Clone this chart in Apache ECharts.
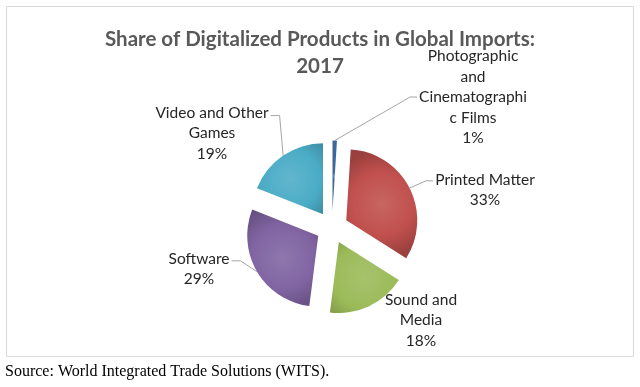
<!DOCTYPE html>
<html><head><meta charset="utf-8">
<script src="https://cdn.jsdelivr.net/npm/echarts@6/dist/echarts.min.js"></script>
<style>html,body{margin:0;padding:0;background:#fff}#c{width:640px;height:387px}</style>
</head><body><div id="c"></div>
<script>
// ---- data ----
var categories = ['Photographic and Cinematographic Films', 'Printed Matter', 'Sound and Media', 'Software', 'Video and Other Games'];
var labelTexts = ['Photographic\nand\nCinematographi\nc Films', 'Printed Matter', 'Sound and\nMedia', 'Software', 'Video and Other\nGames'];
var values = [1, 33, 18, 29, 19];
var titleText = 'Share of Digitalized Products in Global Imports:\n2017';
var sourceText = 'Source: World Integrated Trade Solutions (WITS).';

// ---- styles ----
var colors = ['#4F81BD', '#C0504D', '#9BBB59', '#8064A2', '#4BACC6'];
var labelPos = [[473, 97], [485, 190], [421, 320], [199, 269], [212, 133]];
var lineAttach = [0, -0.45, null, -0.4, -0.85]; // leader attach height, in text lines from label centre
var explode = 16, lineH = 20.5, cx = 332;
var total = values.reduce(function (a, b) { return a + b; }, 0);

function shade(hex, f) {
  var n = parseInt(hex.slice(1), 16), r = n >> 16, g = (n >> 8) & 255, b = n & 255;
  function c(v) { return Math.max(0, Math.min(255, Math.round(f >= 0 ? v + (255 - v) * f : v * (1 + f)))); }
  return 'rgb(' + c(r) + ',' + c(g) + ',' + c(b) + ')';
}
var cum = 0;
var midAngles = values.map(function (v) { var m = (cum + v / 2) / total * 2 * Math.PI; cum += v; return m; });

var chart = echarts.init(document.getElementById('c'), null, { renderer: 'canvas' });
chart.setOption({
  animation: false,
  backgroundColor: '#fff',
  title: {
    text: titleText, left: 315, top: 21, textAlign: 'center',
    textStyle: { fontFamily: 'Lato', fontWeight: 'bold', fontSize: 20.5, color: '#595959', lineHeight: 27, align: 'center' }
  },
  graphic: [
    { type: 'rect', shape: { x: 6.5, y: 6.5, width: 627, height: 350 }, style: { fill: 'none', stroke: '#D9D9D9', lineWidth: 1 }, z: -1 },
    { type: 'text', left: 5, top: 364, style: { text: sourceText, font: '16px "Liberation Serif"', fill: '#000' } }
  ],
  series: [{
    type: 'pie',
    center: [cx, 227.5],
    radius: 71,
    startAngle: 90,
    clockwise: true,
    selectedMode: 'multiple',
    selectedOffset: explode,
    emphasis: { disabled: true },
    data: categories.map(function (c, i) {
      return {
        name: c, value: values[i], selected: true,
        labelLine: { show: lineAttach[i] !== null },
        itemStyle: {
          color: {
            type: 'radial', x: 0.5, y: 0.5, r: 0.75,
            colorStops: [
              { offset: 0, color: shade(colors[i], 0.12) },
              { offset: 0.6, color: colors[i] },
              { offset: 1, color: shade(colors[i], -0.2) }
            ]
          }
        }
      };
    }),
    label: {
      show: true, position: 'outside',
      fontFamily: 'Lato', fontSize: 15.5, lineHeight: lineH, color: '#262626',
      formatter: function (p) { return labelTexts[p.dataIndex] + '\n' + Math.round(p.value / total * 100) + '%'; }
    },
    labelLine: { show: true, lineStyle: { color: '#A6A6A6', width: 1 } },
    labelLayout: function (p) {
      var i = p.dataIndex, pos = labelPos[i];
      var r = p.labelRect;
      var ax = p.align === 'right' ? r.x + r.width : (p.align === 'center' ? r.x + r.width / 2 : r.x);
      var ay = p.verticalAlign === 'top' ? r.y : (p.verticalAlign === 'bottom' ? r.y + r.height : r.y + r.height / 2);
      var ox = explode * Math.sin(midAngles[i]), oy = -explode * Math.cos(midAngles[i]);
      var res = { dx: pos[0] - ax - ox, dy: pos[1] - ay - oy, align: 'center', verticalAlign: 'middle' };
      if (lineAttach[i] !== null && p.labelLinePoints) {
        var right = pos[0] > cx;
        var ex = right ? pos[0] - r.width / 2 - 2 : pos[0] + r.width / 2 + 2;
        var ey = pos[1] + lineAttach[i] * lineH;
        var bx = right ? ex - 7 : ex + 9;
        res.labelLinePoints = [
          p.labelLinePoints[0].slice(),
          [bx - ox, ey - oy],
          [ex - ox, ey - oy]
        ];
      }
      return res;
    }
  }]
});
</script></body></html>
